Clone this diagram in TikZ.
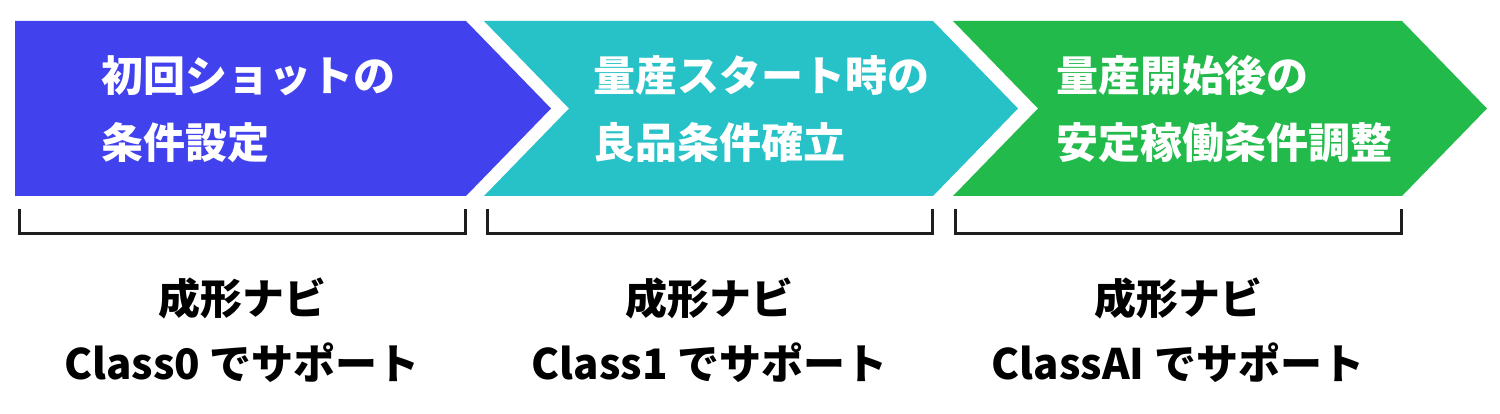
\documentclass[tikz,border=0pt]{standalone}
\usepackage{fontspec}
\setmainfont{Noto Sans CJK JP}
\usepackage{xcolor}
\usepackage{tikz}
\usetikzlibrary{positioning,calc}
\definecolor{stepblue}{HTML}{4141EE}
\definecolor{stepcyan}{HTML}{26C2C7}
\definecolor{stepgreen}{HTML}{21BA4B}
\definecolor{brackdark}{HTML}{1E1E1E}

\begin{document}
\begin{tikzpicture}[
  x=1pt, y=1pt,
  steptext/.style={
    text=white, anchor=west, align=left, inner sep=0pt,
    font=\bfseries\fontsize{42}{67}\selectfont
  },
  navi/.style={
    text=black, align=center, inner sep=0pt,
    font=\bfseries\fontsize{42}{65}\selectfont
  },
  brack/.style={line width=3pt, brackdark},
]
\useasboundingbox (0,0) rectangle (1500,-414);

% Step chevrons
\fill[stepblue] (15,-21) -- (466,-21) -- (551,-108.5) -- (466,-196) -- (15,-196) -- cycle;
\fill[stepcyan] (484,-21) -- (933,-21) -- (1018,-108.5) -- (933,-196) -- (484,-196) -- (569,-108.5) -- cycle;
\fill[stepgreen] (953,-21) -- (1402,-21) -- (1487,-108.5) -- (1402,-196) -- (953,-196) -- (1038,-108.5) -- cycle;

% Step texts
\node[steptext] (first) at (101,-109) {初回ショットの\\条件設定};
\node[steptext] (start) at (593,-109) {量産スタート時の\\良品条件確立};
\node[steptext] (mass) at (1056,-109) {量産開始後の\\安定稼働条件調整};

% Brackets
\draw[brack] (19,-209) -- (19,-234) -- (465,-234) -- (465,-209);
\draw[brack] (487,-209) -- (487,-234) -- (932,-234) -- (932,-209);
\draw[brack] (955,-209) -- (955,-234) -- (1401,-234) -- (1401,-209);

% Navi classes
\node[navi] (class0) at (242,-330) {成形ナビ\\Class0 でサポート};
\node[navi] (class1) at (709.5,-330) {成形ナビ\\Class1 でサポート};
\node[navi] (classai) at (1178,-330) {成形ナビ\\ClassAI でサポート};

\end{tikzpicture}
\end{document}
